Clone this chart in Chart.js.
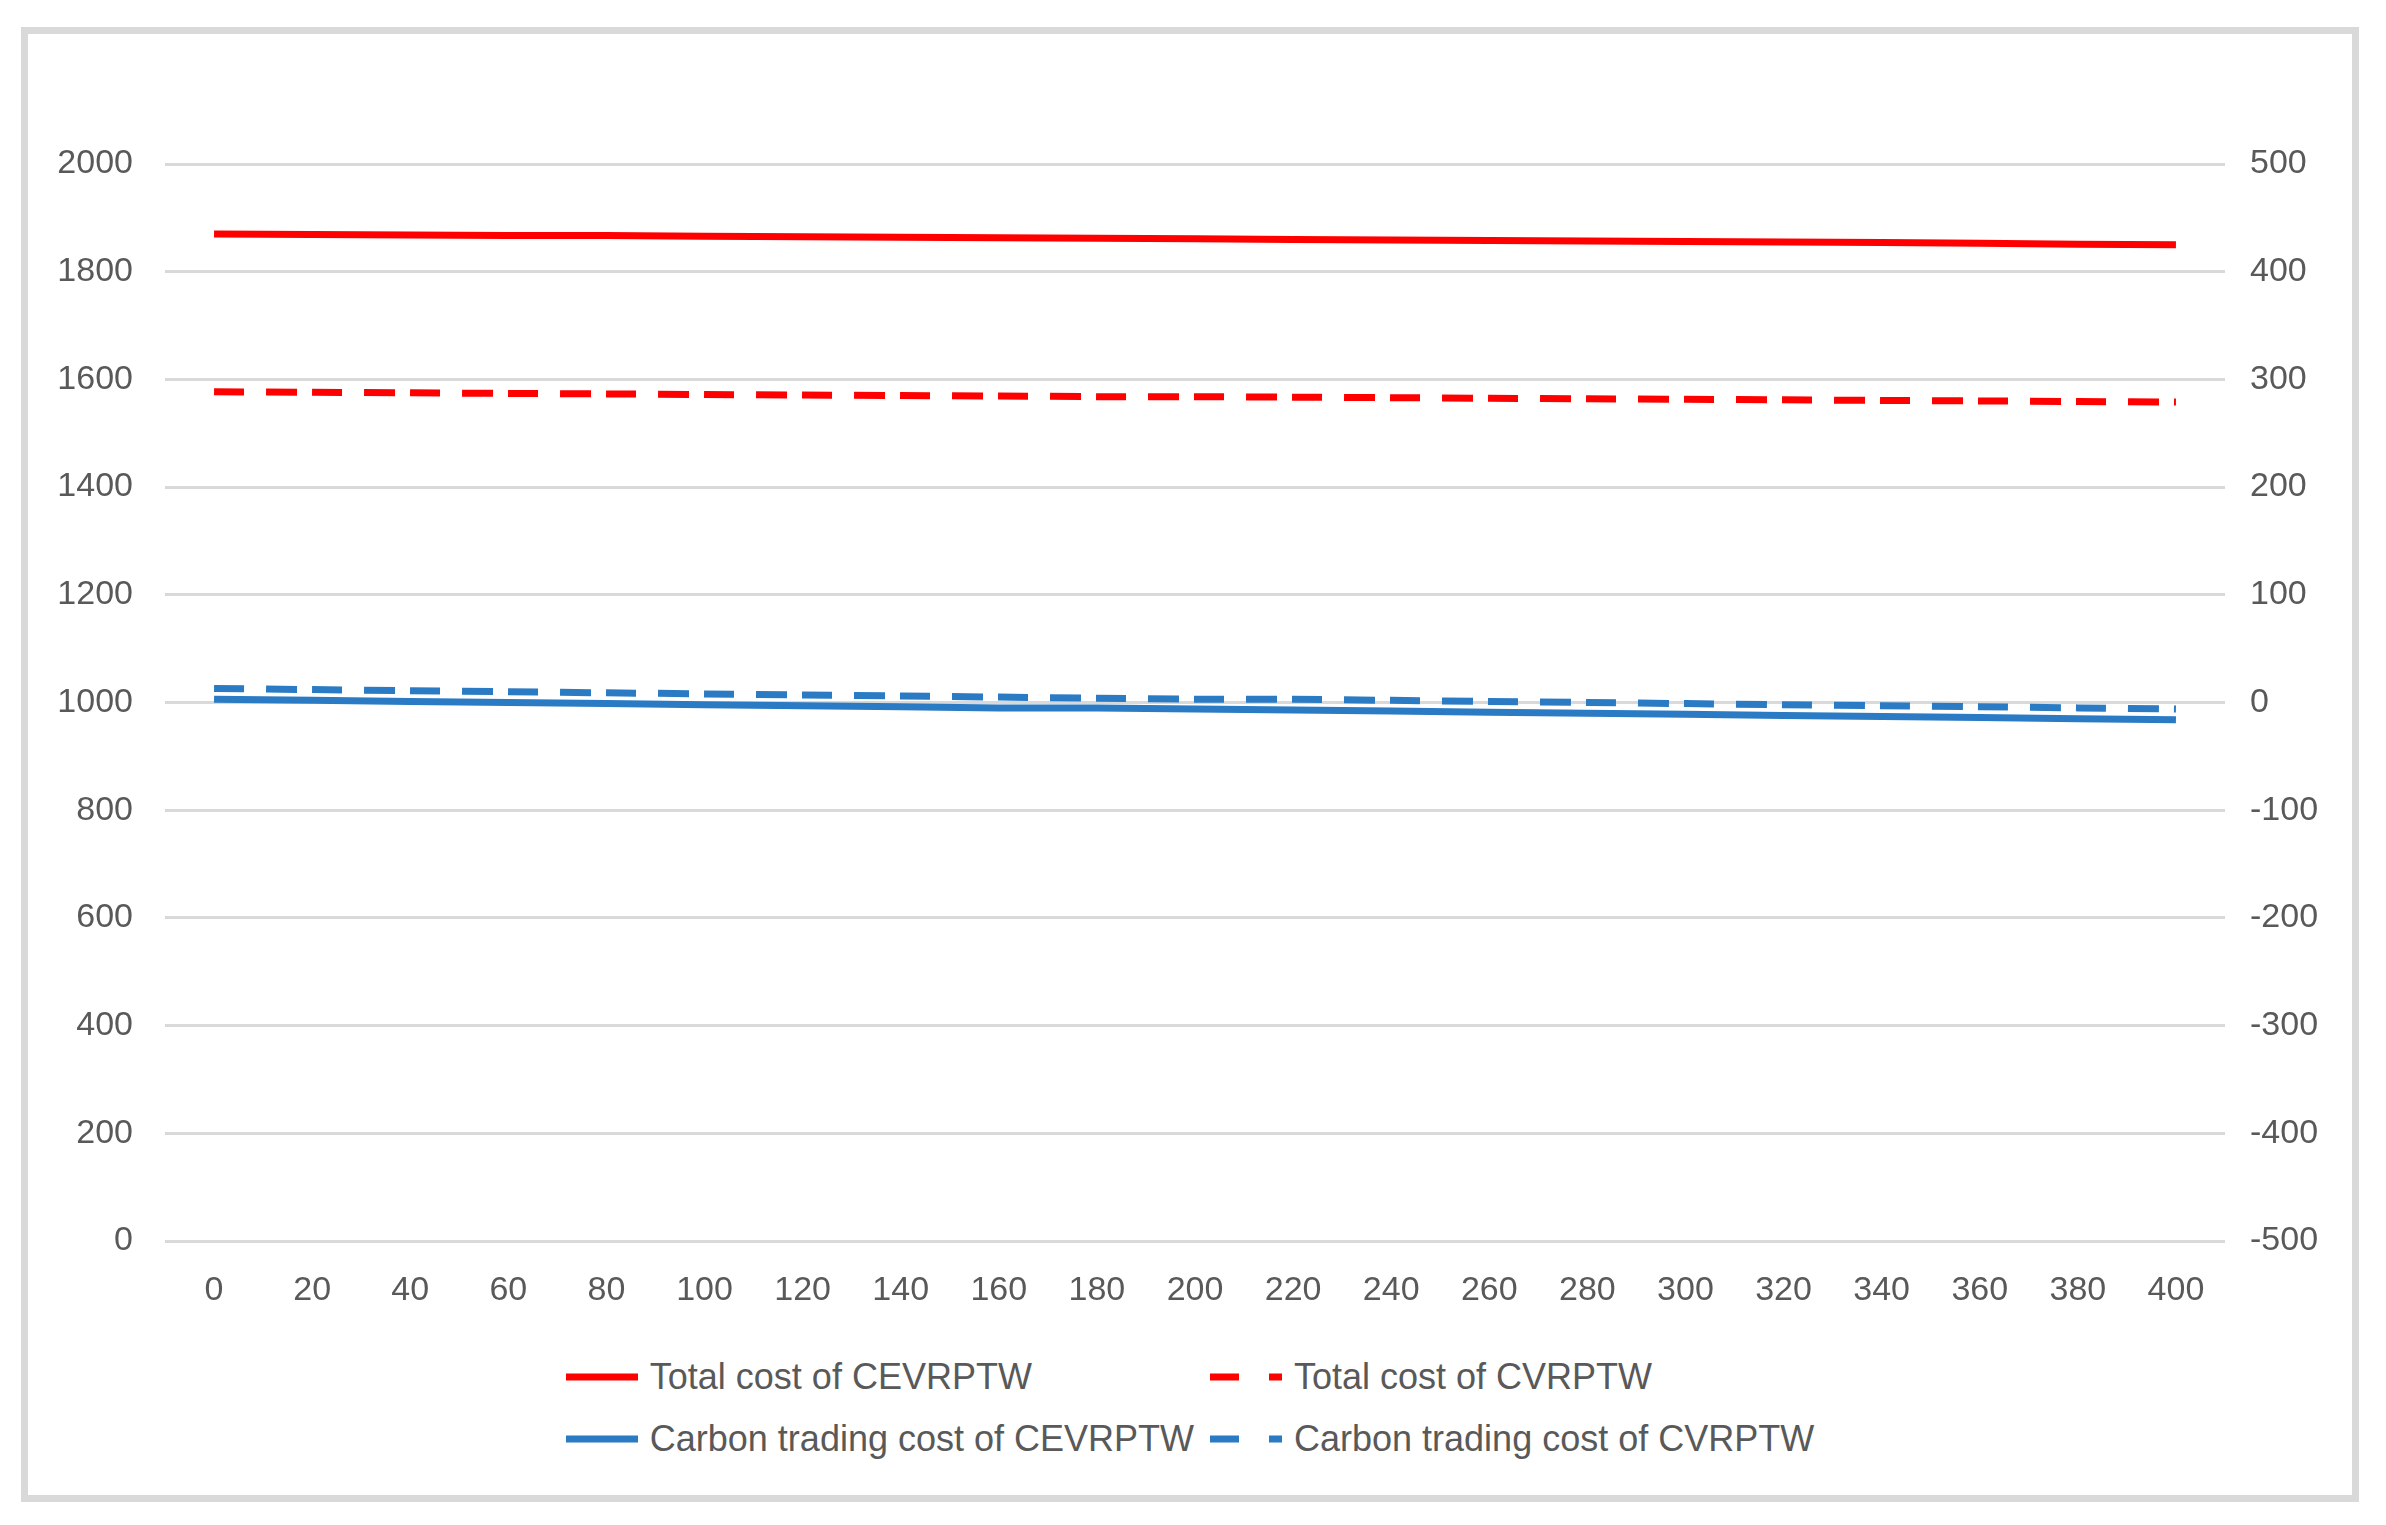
<!DOCTYPE html>
<html lang="en">
<head>
    <meta charset="UTF-8">
    <title>Total cost and carbon trading cost</title>
    <style>
        body {
            margin: 0;
            background: #ffffff;
            font-family: "Liberation Sans", Arial, sans-serif;
        }
        .frame {
            position: absolute;
            left: 21px;
            top: 27px;
            width: 2324px;
            height: 1461px;
            border: 7px solid #d9d9d9;
            background: #ffffff;
        }
        #costChart {
            display: block;
        }
        .legend {
            display: grid;
            grid-template-columns: auto auto;
            column-gap: 16px;
            justify-content: center;
            margin-top: 2px;
        }
        .legend-item {
            display: flex;
            align-items: center;
            height: 62px;
            font-size: 36px;
            color: #595959;
            white-space: nowrap;
        }
        .legend-item svg {
            margin-right: 12px;
        }
    </style>
</head>
<body>
    <div class="frame">
        <canvas id="costChart" width="2324" height="1310"></canvas>
        <div class="legend" id="legend"></div>
    </div>

    <script src="https://cdn.jsdelivr.net/npm/chart.js"></script>
    <script>
        // x values (carbon price)
        const prices = ['0', '20', '40', '60', '80', '100', '120', '140', '160', '180', '200',
                        '220', '240', '260', '280', '300', '320', '340', '360', '380', '400'];

        // left axis
        const totalCEVRPTW = [1870, 1869, 1868, 1867, 1867, 1866, 1865, 1864, 1863, 1862, 1861,
                              1860, 1859, 1858, 1857, 1856, 1855, 1854, 1853, 1851, 1850];
        const totalCVRPTW = [1577, 1576, 1575, 1574, 1573, 1572, 1571, 1570, 1569, 1568, 1568,
                             1567, 1566, 1565, 1564, 1563, 1562, 1561, 1560, 1559, 1558];

        // right axis
        const carbonCEVRPTW = [3, 2, 1, 0, -1, -2, -3, -4, -5, -5, -6,
                               -7, -8, -9, -10, -11, -12, -13, -14, -15, -16];
        const carbonCVRPTW = [13, 12, 11, 10, 9, 8, 7, 6, 5, 4, 3,
                              3, 2, 1, 0, -1, -2, -3, -4, -5, -6];

        const RED = '#ff0000';
        const BLUE = '#2b7bc4';
        const DASH = [30, 22, 31, 15];
        const tickFont = { family: '"Liberation Sans", Arial, sans-serif', size: 34 };

        const datasets = [
            { label: 'Total cost of CEVRPTW', data: totalCEVRPTW, borderColor: RED, yAxisID: 'y', borderDash: [] },
            { label: 'Total cost of CVRPTW', data: totalCVRPTW, borderColor: RED, yAxisID: 'y', borderDash: DASH },
            { label: 'Carbon trading cost of CEVRPTW', data: carbonCEVRPTW, borderColor: BLUE, yAxisID: 'y1', borderDash: [] },
            { label: 'Carbon trading cost of CVRPTW', data: carbonCVRPTW, borderColor: BLUE, yAxisID: 'y1', borderDash: DASH }
        ].map(d => Object.assign(d, {
            borderWidth: 7,
            pointRadius: 0,
            tension: 0,
            fill: false,
            borderCapStyle: 'butt'
        }));

        new Chart(document.getElementById('costChart').getContext('2d'), {
            type: 'line',
            data: { labels: prices, datasets: datasets },
            options: {
                responsive: false,
                devicePixelRatio: 1,
                animation: false,
                layout: { padding: { top: 130, left: 0, right: 0, bottom: 0 } },
                plugins: {
                    legend: { display: false },
                    tooltip: { enabled: false }
                },
                scales: {
                    x: {
                        offset: true,
                        grid: { display: false, drawTicks: false },
                        border: { display: false },
                        ticks: { color: '#595959', font: tickFont, padding: 29, maxRotation: 0, autoSkip: false },
                        afterFit: s => { s.height = 103; }
                    },
                    y: {
                        position: 'left',
                        min: 0,
                        max: 2000,
                        grid: { color: '#d9d9d9', lineWidth: 3, drawTicks: false },
                        border: { display: false },
                        ticks: { stepSize: 200, color: '#595959', font: tickFont, padding: 32, callback: v => String(v) },
                        afterFit: s => { s.width = 137; }
                    },
                    y1: {
                        position: 'right',
                        min: -500,
                        max: 500,
                        grid: { display: false, drawTicks: false },
                        border: { display: false },
                        ticks: { stepSize: 100, color: '#595959', font: tickFont, padding: 25, callback: v => String(v) },
                        afterFit: s => { s.width = 127; }
                    }
                }
            }
        });

        // legend laid out in two columns like the original
        const legend = document.getElementById('legend');
        datasets.forEach(d => {
            const dashed = d.borderDash.length > 0;
            const item = document.createElement('div');
            item.className = 'legend-item';
            item.innerHTML =
                '<svg width="72" height="10"><line x1="0" y1="5" x2="72" y2="5" stroke="' + d.borderColor +
                '" stroke-width="7"' + (dashed ? ' stroke-dasharray="29 30"' : '') + '/></svg>' +
                '<span>' + d.label + '</span>';
            legend.appendChild(item);
        });
    </script>
</body>
</html>
